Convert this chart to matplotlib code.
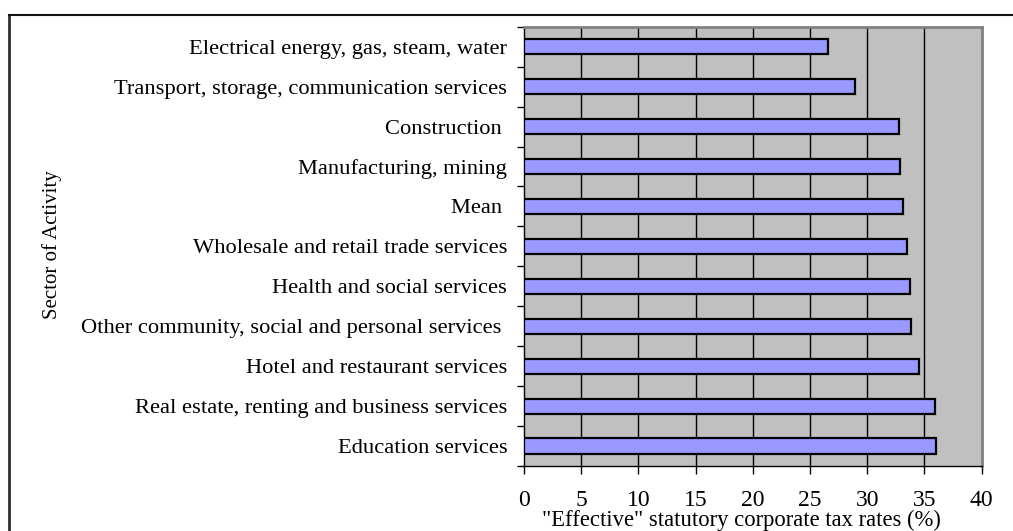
import numpy as np
import matplotlib
matplotlib.use('Agg')
import matplotlib.pyplot as plt
from matplotlib.lines import Line2D
from matplotlib.ticker import FixedLocator

plt.rcParams['font.family'] = ['Liberation Serif', 'DejaVu Serif']

# Sectors, top to bottom as shown
sectors = ['Electrical energy, gas, steam, water',
	'Transport, storage, communication services',
	'Construction ',
	'Manufacturing, mining',
	'Mean ',
	'Wholesale and retail trade services',
	'Health and social services',
	'Other community, social and personal services ',
	'Hotel and restaurant services',
	'Real estate, renting and business services',
	'Education services']
rates = [26.6, 28.9, 32.8, 32.9, 33.1, 33.5, 33.7, 33.8, 34.5, 35.9, 36.0]
x_ticks = [0, 5, 10, 15, 20, 25, 30, 35, 40]

W, H = 1013, 531
fig = plt.figure(figsize=(W / 100., H / 100.), dpi=100)
ax = fig.add_axes([524. / W, 1 - 466. / H, (981.7 - 524.) / W, (466. - 26.7) / H])

n = len(sectors)
ypos = np.arange(n)
ax.set_facecolor('#C0C0C0')
ax.barh(ypos, rates, height=0.38, color='#9999FF', edgecolor='black', linewidth=1.6, zorder=3)

ax.set_xlim(0, 40)
ax.set_ylim(n - 0.5, -0.5)
ax.set_xticks(x_ticks)
ax.set_xticklabels([str(t) for t in x_ticks], fontsize=17)
for t in x_ticks[1:-1]:
	ax.axvline(t, color='black', linewidth=1.0, zorder=1)

ax.set_yticks(ypos)
ax.set_yticklabels(sectors, fontsize=16.2)
ax.yaxis.set_minor_locator(FixedLocator(np.arange(-0.5, n, 1.0)))
ax.tick_params(axis='y', which='major', length=0, pad=12)
ax.tick_params(axis='y', which='minor', length=5, width=1, direction='out', color='black')
ax.tick_params(axis='x', which='major', length=6, width=1, direction='out', pad=11)

ax.spines['left'].set_color('black')
ax.spines['bottom'].set_color('black')
ax.spines['left'].set_linewidth(1.0)
ax.spines['bottom'].set_linewidth(1.0)
ax.spines['top'].set_color('#808080')
ax.spines['right'].set_color('#808080')
ax.spines['top'].set_linewidth(2)
ax.spines['right'].set_linewidth(2)

ax.set_xlabel('"Effective" statutory corporate tax rates (%)', fontsize=16.3, labelpad=-1)
ax.xaxis.set_label_coords(0.474, -0.1)
fig.text(52. / W, 1 - 245. / H, 'Sector of Activity', rotation=90, fontsize=15, ha='center', va='center')

# outer chart frame (left and top edges visible)
fig.add_artist(Line2D([8.5 / W, 8.5 / W], [0, 1 - 15. / H], color='#303030', linewidth=2, transform=fig.transFigure))
fig.add_artist(Line2D([8.5 / W, 1], [1 - 15. / H, 1 - 15. / H], color='#101010', linewidth=1.5, transform=fig.transFigure))

plt.savefig('out.png', dpi=100)
